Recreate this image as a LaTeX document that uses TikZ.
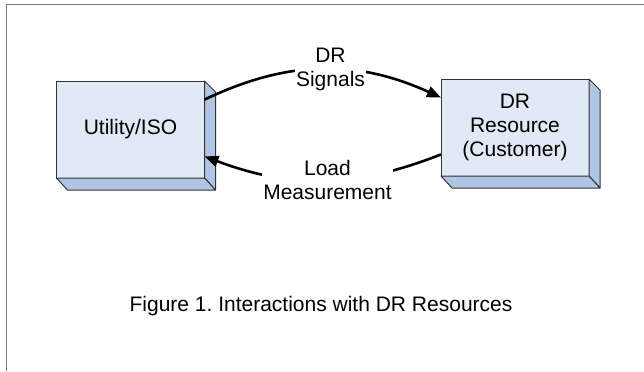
\documentclass[tikz,border=0pt]{standalone}
\usepackage{fontspec}
\setmainfont{Liberation Sans}
\usetikzlibrary{arrows.meta,positioning}
\definecolor{boxfront}{RGB}{226,233,246}
\definecolor{boxside}{RGB}{176,196,228}
\definecolor{boxline}{RGB}{50,50,50}
\definecolor{frameline}{RGB}{120,120,120}
\frenchspacing

\begin{document}
\begin{tikzpicture}[x=0.5pt,y=-0.5pt,>={Triangle[length=7pt,width=5.5pt]},
  font=\fontsize{10.5pt}{12pt}\selectfont,
  box/.style={draw=boxline,fill=boxfront,line width=0.5pt,outer sep=0pt,
              align=center,minimum width=74pt,minimum height=48.5pt},
  side/.style={draw=boxline,fill=boxside,line width=0.5pt,line join=round},
  lbl/.style={fill=white,align=center,inner xsep=0.5pt,inner ysep=1pt},
  flow/.style={->,line width=1.3pt}]
  \useasboundingbox (0,0) rectangle (644,371);
  \draw[frameline,line width=0.9pt] (6.5,371) |- (644,4.5);
  \node[box] (util) at (130.5,129.5) {Utility/ISO};
  \node[box] (res) at (515,127.5) {DR\\Resource\\(Customer)};
  % extruded right and bottom faces
  \foreach \n in {util,res} {
    \filldraw[side] (\n.north east) -- ++(11,11)
      -- ([shift={(11,12)}]\n.south east) -- (\n.south east) -- cycle;
    \filldraw[side] (\n.south west) -- ++(11,12)
      -- ([shift={(11,12)}]\n.south east) -- (\n.south east) -- cycle;
  }
  \draw[flow] (util.22) to[bend left=25]
    node[lbl,xshift=4pt] (sig) {DR\\Signals} (res.158);
  \draw[flow] (res.200) to[bend left=21]
    node[lbl,xshift=2.25pt] (meas) {Load\\Measurement} (util.-20);
  \node[anchor=base] (cap) at (321,311) {Figure 1. Interactions with DR Resources};
\end{tikzpicture}
\end{document}
